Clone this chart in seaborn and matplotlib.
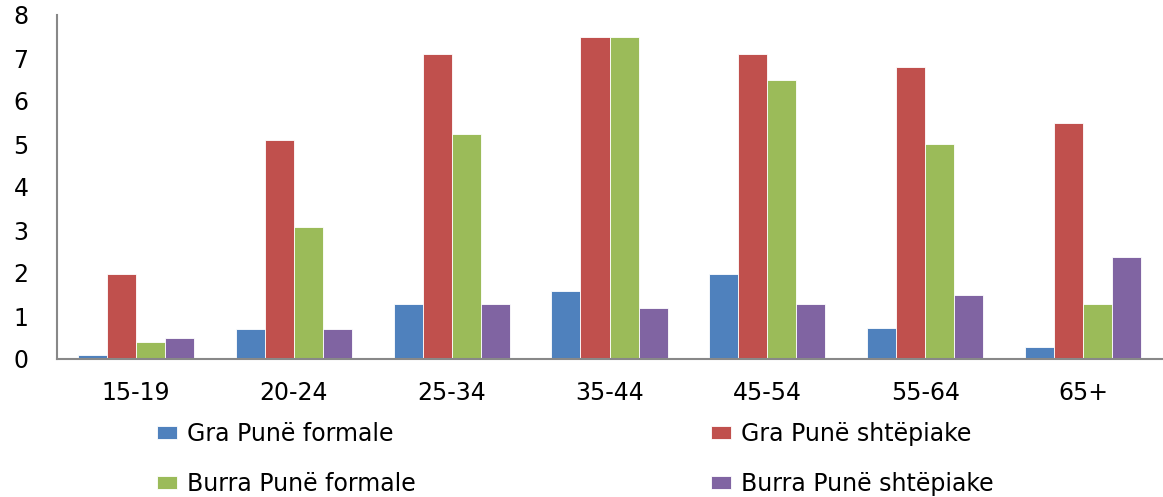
import numpy as np
import pandas as pd
import matplotlib.pyplot as plt
import seaborn as sns

# age groups and the four series (hours per day)
age_groups = ['15-19', '20-24', '25-34', '35-44', '45-54', '55-64', '65+']
series_names = ['Gra Punë formale', 'Gra Punë shtëpiake',
                'Burra Punë formale', 'Burra Punë shtëpiake']
gra_formale = [0.1, 0.7, 1.27, 1.57, 1.98, 0.72, 0.28]
gra_shtepiake = [1.97, 5.1, 7.1, 7.5, 7.1, 6.8, 5.5]
burra_formale = [0.4, 3.07, 5.23, 7.5, 6.5, 5.0, 1.28]
burra_shtepiake = [0.48, 0.7, 1.27, 1.18, 1.28, 1.5, 2.37]
colors = ['#4F81BD', '#C0504D', '#9BBB59', '#8064A2']

values = [gra_formale, gra_shtepiake, burra_formale, burra_shtepiake]
df = pd.DataFrame({
    'age': np.tile(age_groups, len(series_names)),
    'series': np.repeat(series_names, len(age_groups)),
    'value': np.concatenate(values),
})

sns.set_style('white')
plt.rcParams['font.family'] = ['DejaVu Sans']
plt.rcParams['text.color'] = 'black'
plt.rcParams['xtick.labelcolor'] = 'black'
plt.rcParams['ytick.labelcolor'] = 'black'

W, H = 1163, 497
fig = plt.figure(figsize=(W / 100, H / 100), dpi=100)
ax = fig.add_axes([57 / W, 1 - 359 / H, 1105 / W, 344 / H])

sns.barplot(data=df, x='age', y='value', hue='series', hue_order=series_names,
            order=age_groups, palette=colors, width=0.735, saturation=1,
            edgecolor='white', linewidth=0.6, ax=ax, legend=True)

ax.set_xlim(-0.5, len(age_groups) - 0.5)
ax.set_ylim(0, 8)
ax.set_yticks(range(0, 9))
ax.set_xlabel('')
ax.set_ylabel('')

# tick marks on the group boundaries, labels at the centres
ax.set_xticks(np.arange(-0.5, len(age_groups)), labels=[''] * (len(age_groups) + 1))
ax.set_xticks(range(len(age_groups)), labels=age_groups, minor=True)
ax.tick_params(axis='x', which='major', length=6.5, width=1.2, color='#888888', direction='out')
ax.tick_params(axis='x', which='minor', length=0, pad=16, labelsize=17)
ax.tick_params(axis='y', length=6.5, width=1.2, color='#888888', direction='out', pad=14, labelsize=17)

for side in ['top', 'right']:
    ax.spines[side].set_visible(False)
for side in ['left', 'bottom']:
    ax.spines[side].set_color('#888888')
    ax.spines[side].set_linewidth(1.5)

# legend is filled row by row in the reference
handles, labels = ax.get_legend_handles_labels()
ax.get_legend().remove()
order = [0, 2, 1, 3]
fig.legend([handles[i] for i in order], [labels[i] for i in order], ncol=2,
           loc='upper left', bbox_to_anchor=(157 / W, 1 - 422 / H),
           borderaxespad=0, borderpad=0, frameon=False, fontsize=17,
           handlelength=0.85, handleheight=0.5, handletextpad=0.42,
           columnspacing=12.5, labelspacing=1.1)

fig.savefig('out.png', dpi=100)
